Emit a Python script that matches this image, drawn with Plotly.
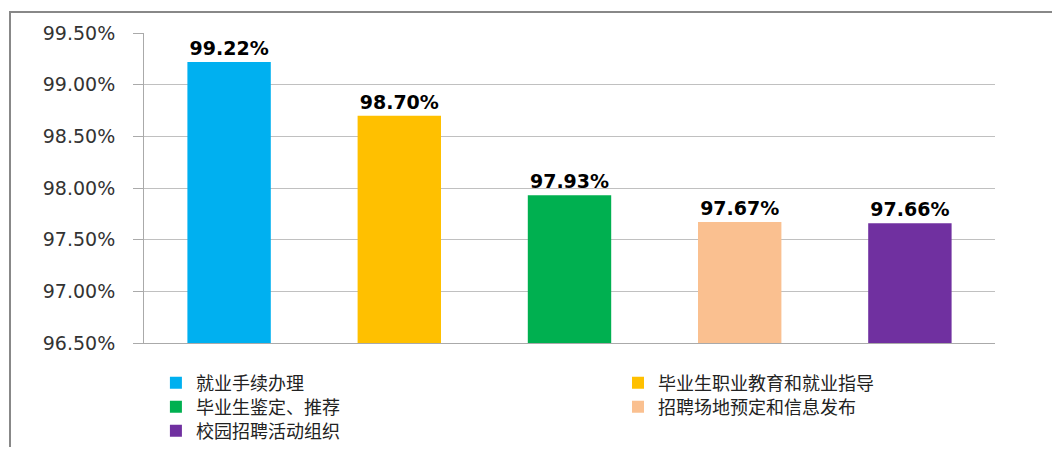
import plotly.graph_objects as go

categorias = ["就业手续办理", "毕业生职业教育和就业指导", "毕业生鉴定、推荐",
              "招聘场地预定和信息发布", "校园招聘活动组织"]
valores = [0.9922, 0.9870, 0.9793, 0.9767, 0.9766]
colores = ["#00B0F0", "#FFC000", "#00B050", "#FAC090", "#7030A0"]

# one small legend per entry, laid out in two columns like the original
posiciones_leyenda = [(0.014, -0.129), (0.557, -0.129), (0.014, -0.2065),
                      (0.557, -0.2065), (0.014, -0.284)]
nombres_leyenda = ["legend", "legend2", "legend3", "legend4", "legend5"]

fig = go.Figure()
for cat, val, color, ley in zip(categorias, valores, colores, nombres_leyenda):
    fig.add_trace(go.Bar(
        x=[cat], y=[val], name=cat, width=0.49,
        marker=dict(color=color, line=dict(width=0)),
        texttemplate="%{y:.2%}", textposition="outside", cliponaxis=False,
        textfont=dict(family="DejaVu Sans", size=19, color="#000000", weight="bold"),
        legend=ley, showlegend=True
    ))

leg_font = dict(family="Noto Sans CJK SC", size=18, color="#222222")
leyendas = {}
for ley, (lx, ly) in zip(nombres_leyenda, posiciones_leyenda):
    leyendas[ley] = dict(x=lx, y=ly, xanchor="left", yanchor="middle",
                         font=leg_font, bgcolor="rgba(0,0,0,0)")

# the page body adds an 8px margin, so the figure is 16px smaller than the window
fig.update_layout(
    width=1044, height=439,
    barmode="overlay",
    showlegend=True,
    paper_bgcolor="white", plot_bgcolor="white",
    margin=dict(l=136, r=57, t=25, b=104, autoexpand=False),
    font=dict(family="DejaVu Sans", color="#333333"),
    shapes=[dict(type="rect", xref="paper", yref="paper",
                 x0=-134/851, x1=1.2, y0=-0.5, y1=1 + 21/310,
                 line=dict(color="#888888", width=2))],
    **leyendas
)
fig.update_yaxes(range=[0.965, 0.995], dtick=0.005, tick0=0.965, tickformat=".2%",
                 showgrid=True, gridcolor="#C0C0C0", gridwidth=1,
                 showline=True, linecolor="#AAAAAA", ticks="outside", ticklen=10,
                 tickcolor="#AAAAAA", tickfont=dict(size=19, color="#333333"),
                 ticklabelstandoff=14, zeroline=False)
fig.update_xaxes(showticklabels=False, showline=True, linecolor="#AAAAAA",
                 showgrid=False)

fig.write_html("out.html")
